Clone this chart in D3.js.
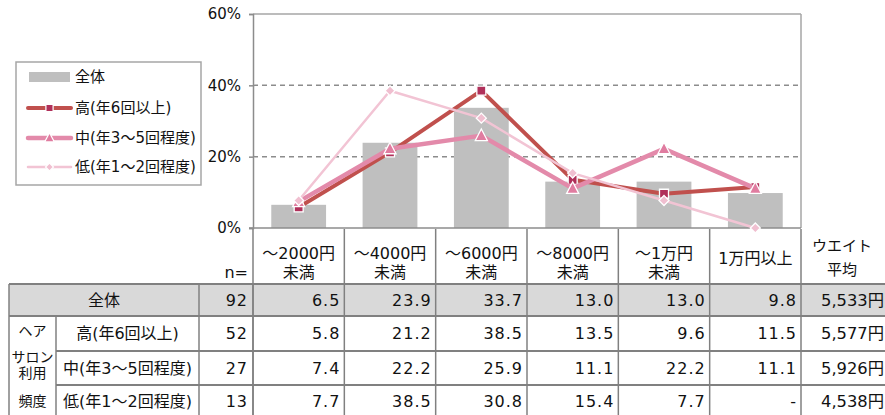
<!DOCTYPE html>
<html><head><meta charset="utf-8">
<script src="https://cdn.jsdelivr.net/npm/d3@7"></script>
<style>
html,body{margin:0;padding:0;background:#fff;}
svg{display:block;font-family:'DejaVu Sans','Noto Sans CJK JP',sans-serif;}
</style></head>
<body>
<script>
const categories = ["～2000円\n未満","～4000円\n未満","～6000円\n未満","～8000円\n未満","～1万円\n未満","1万円以上"];
const seriesNames = ["全体","高(年6回以上)","中(年3～5回程度)","低(年1～2回程度)"];
const totalValues = [6.5,23.9,33.7,13.0,13.0,9.8];
const highValues  = [5.8,21.2,38.5,13.5,9.6,11.5];
const midValues   = [7.4,22.2,25.9,11.1,22.2,11.1];
const lowValues   = [7.7,38.5,30.8,15.4,7.7,0];
const lowLabels   = ["7.7","38.5","30.8","15.4","7.7","-"];
const nValues = [92,52,27,13];
const weightedAvg = ["5,533円","5,577円","5,926円","4,538円"];
const yTicks = [0,20,40,60];
const groupLabel = ["ヘア","サロン","利用","頻度"];

const W=885,H=415;
const svg=d3.select("body").append("svg").attr("width",W).attr("height",H);

const L=253,R=801,T=14,B=228;
const x=d3.scaleBand().domain(d3.range(categories.length)).range([L,R]).paddingInner(0.4).paddingOuter(0.2);
const y=d3.scaleLinear().domain([0,60]).range([B,T]);
const step=x.step();
const edge=i=>L+i*step;
const cx=i=>x(i)+x.bandwidth()/2;

// gridlines
svg.append("g").selectAll("line").data([20,40]).join("line")
  .attr("x1",L).attr("x2",R).attr("y1",d=>y(d)).attr("y2",d=>y(d))
  .attr("stroke","#8c8c8c").attr("stroke-width",1.5).attr("stroke-dasharray","5,4");
svg.append("line").attr("x1",L).attr("x2",R).attr("y1",y(60)).attr("y2",y(60)).attr("stroke","#a6a6a6").attr("stroke-width",1.5);
svg.append("line").attr("x1",R).attr("x2",R).attr("y1",y(60)).attr("y2",y(0)).attr("stroke","#a6a6a6").attr("stroke-width",1.5);

// bars
svg.append("g").selectAll("rect").data(totalValues).join("rect")
  .attr("x",(d,i)=>x(i)).attr("width",x.bandwidth())
  .attr("y",d=>y(d)).attr("height",d=>y(0)-y(d)).attr("fill","#bfbfbf");

// y axis
const yAxis=d3.axisLeft(y).tickValues(yTicks).tickFormat(d=>d+"%").tickSize(4).tickPadding(8);
const ya=svg.append("g").attr("transform",`translate(${L},0)`).call(yAxis);
ya.select(".domain").attr("stroke","#8c8c8c").attr("stroke-width",1.5);
ya.selectAll(".tick line").attr("stroke","#8c8c8c").attr("stroke-width",1.5);
ya.selectAll(".tick text").attr("font-size",15).attr("fill","#111").attr("font-family","'DejaVu Sans',sans-serif");
svg.append("line").attr("x1",L-4).attr("x2",R).attr("y1",y(0)).attr("y2",y(0)).attr("stroke","#8c8c8c").attr("stroke-width",1.5);

// lines
const lineGen=d3.line().x((d,i)=>cx(i)).y(d=>y(d));
const series=[
  {vals:highValues,color:"#c0504d",w:4,marker:"square",fill:"#b0305a",size:9},
  {vals:midValues,color:"#e38aaa",w:4.5,marker:"triangle",fill:"#e07ca0",size:11},
  {vals:lowValues,color:"#f2c4d4",w:2.5,marker:"diamond",fill:"#f0bfd0",size:10}
];
function markerPath(type,s){
  if(type==="square") return `M${-s/2},${-s/2}h${s}v${s}h${-s}Z`;
  if(type==="triangle") return `M0,${-s*0.6}L${s*0.55},${s*0.45}L${-s*0.55},${s*0.45}Z`;
  return `M0,${-s/2}L${s/2},0L0,${s/2}L${-s/2},0Z`;
}
series.forEach(s=>{
  const g=svg.append("g");
  g.append("path").attr("d",lineGen(s.vals)).attr("fill","none").attr("stroke",s.color).attr("stroke-width",s.w).attr("stroke-linejoin","round");
  g.selectAll("path.m").data(s.vals).join("path").attr("class","m")
    .attr("transform",(d,i)=>`translate(${cx(i)},${y(d)})`)
    .attr("d",markerPath(s.marker,s.size)).attr("fill",s.fill).attr("stroke","#fff").attr("stroke-width",1.3);
});

// legend
const lg=svg.append("g");
lg.append("rect").attr("x",16).attr("y",62).attr("width",185).attr("height",123).attr("fill","#fff").attr("stroke","#a6a6a6").attr("stroke-width",1.5);
const legY=[77,108,138,167];
lg.append("rect").attr("x",29).attr("y",legY[0]-5).attr("width",41).attr("height",10).attr("fill","#bfbfbf");
series.forEach((s,i)=>{
  const yy=legY[i+1];
  lg.append("line").attr("x1",28).attr("x2",71).attr("y1",yy).attr("y2",yy).attr("stroke",s.color).attr("stroke-width",s.w).attr("stroke-linecap","round");
  lg.append("path").attr("transform",`translate(49.5,${yy})`).attr("d",markerPath(s.marker,s.size*0.8)).attr("fill",s.fill).attr("stroke","#fff").attr("stroke-width",1.2);
});
lg.selectAll("text").data(seriesNames).join("text").attr("x",75).attr("y",(d,i)=>legY[i]).attr("dy","0.36em")
  .attr("font-size",15).attr("fill","#111").text(d=>d);

// table
const tableLine="#808080";
const tg=svg.append("g");
const fs=16;
const rowTop=[284,316,351,385,420];
const leftEdge=9, grpEdge=56, lblEdge=199, nEdge=253;
const colEdges=d3.range(categories.length+1).map(edge);
const lastEdge=W+20;
tg.append("rect").attr("x",leftEdge).attr("y",rowTop[0]).attr("width",lastEdge-leftEdge).attr("height",rowTop[1]-rowTop[0]).attr("fill","#d9d9d9");
colEdges.forEach(e=>tg.append("line").attr("x1",e).attr("x2",e).attr("y1",229).attr("y2",rowTop[0]).attr("stroke",tableLine).attr("stroke-width",1.5));
tg.append("line").attr("x1",leftEdge).attr("x2",lastEdge).attr("y1",rowTop[0]).attr("y2",rowTop[0]).attr("stroke",tableLine).attr("stroke-width",2);
tg.append("line").attr("x1",leftEdge).attr("x2",lastEdge).attr("y1",rowTop[1]).attr("y2",rowTop[1]).attr("stroke",tableLine).attr("stroke-width",2);
[2,3].forEach(r=>tg.append("line").attr("x1",grpEdge).attr("x2",lastEdge).attr("y1",rowTop[r]).attr("y2",rowTop[r]).attr("stroke",tableLine).attr("stroke-width",2));
[leftEdge,lblEdge,nEdge,...colEdges].forEach(e=>tg.append("line").attr("x1",e).attr("x2",e).attr("y1",rowTop[0]).attr("y2",H).attr("stroke",tableLine).attr("stroke-width",1.5));
tg.append("line").attr("x1",grpEdge).attr("x2",grpEdge).attr("y1",rowTop[1]).attr("y2",H).attr("stroke",tableLine).attr("stroke-width",1.5);

categories.forEach((c,i)=>{
  const parts=c.split("\n");
  const mid=(colEdges[i]+colEdges[i+1])/2;
  if(parts.length===2){
    tg.append("text").attr("x",mid).attr("y",253).attr("dy","0.36em").attr("text-anchor","middle").attr("font-size",fs).attr("fill","#111").text(parts[0]);
    tg.append("text").attr("x",mid).attr("y",272).attr("dy","0.36em").attr("text-anchor","middle").attr("font-size",fs).attr("fill","#111").text(parts[1]);
  } else {
    tg.append("text").attr("x",mid).attr("y",258).attr("dy","0.36em").attr("text-anchor","middle").attr("font-size",fs).attr("fill","#111").text(parts[0]);
  }
});
tg.append("text").attr("x",842).attr("y",246).attr("dy","0.36em").attr("text-anchor","middle").attr("font-size",15).attr("fill","#111").text("ウエイト");
tg.append("text").attr("x",842).attr("y",270).attr("dy","0.36em").attr("text-anchor","middle").attr("font-size",15).attr("fill","#111").text("平均");
tg.append("text").attr("x",248).attr("y",272).attr("dy","0.36em").attr("text-anchor","end").attr("font-size",fs).attr("fill","#111").text("n=");

const rowVals=[totalValues.map(v=>v.toFixed(1)),highValues.map(v=>v.toFixed(1)),midValues.map(v=>v.toFixed(1)),lowLabels];
rowVals.forEach((vals,r)=>{
  const cy=(rowTop[r]+Math.min(rowTop[r+1],H+3))/2;
  const lbl=tg.append("text").attr("y",cy).attr("dy","0.36em").attr("font-size",fs).attr("fill","#111").attr("text-anchor","middle").text(seriesNames[r]);
  if(r===0) lbl.attr("x",(leftEdge+lblEdge)/2); else lbl.attr("x",(grpEdge+lblEdge)/2);
  tg.append("text").attr("x",nEdge-5).attr("y",cy).attr("dy","0.36em").attr("text-anchor","end").attr("font-size",fs).attr("letter-spacing",1).attr("fill","#111").text(nValues[r]);
  vals.forEach((v,i)=>{
    tg.append("text").attr("x",colEdges[i+1]-4).attr("y",cy).attr("dy","0.36em").attr("text-anchor","end").attr("font-size",fs).attr("letter-spacing",1).attr("fill","#111").text(v);
  });
  tg.append("text").attr("x",821).attr("y",cy).attr("dy","0.36em").attr("font-size",fs).attr("textLength",63).attr("lengthAdjust","spacingAndGlyphs").attr("fill","#111").text(weightedAvg[r]);
});
const gy=[331,357,373,401];
groupLabel.forEach((t,i)=>tg.append("text").attr("x",(leftEdge+grpEdge)/2).attr("y",gy[i]).attr("dy","0.36em").attr("text-anchor","middle").attr("font-size",14).attr("fill","#111").text(t));
</script>
</body></html>
